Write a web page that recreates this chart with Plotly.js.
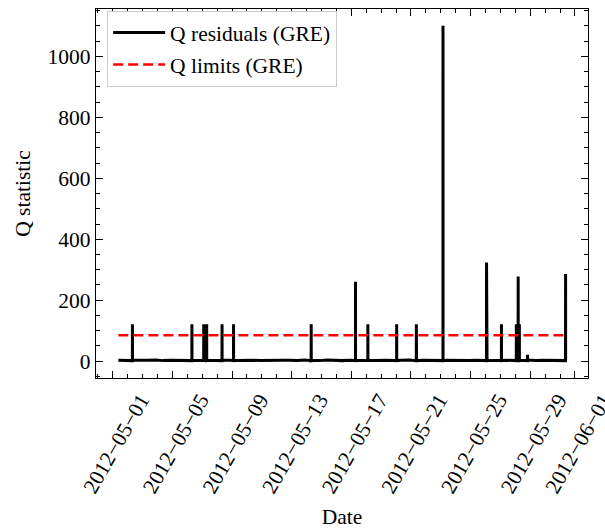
<!DOCTYPE html>
<html>
<head>
<meta charset="utf-8">
<script src="https://cdn.plot.ly/plotly-3.0.1.min.js"></script>
<style>html,body{margin:0;padding:0;background:#fff;}</style>
</head>
<body>
<div id="chart" style="width:605px;height:529px"></div>
<script>
// Baseline samples (every 12 h)
const baselineTimes = [
 "2012-05-01 09:00","2012-05-01 21:00","2012-05-02 09:00","2012-05-02 21:00","2012-05-03 09:00","2012-05-03 21:00",
 "2012-05-04 09:00","2012-05-04 21:00","2012-05-05 09:00","2012-05-05 21:00","2012-05-06 09:00","2012-05-06 21:00",
 "2012-05-07 09:00","2012-05-07 21:00","2012-05-08 09:00","2012-05-08 21:00","2012-05-09 09:00","2012-05-09 21:00",
 "2012-05-10 09:00","2012-05-10 21:00","2012-05-11 09:00","2012-05-11 21:00","2012-05-12 09:00","2012-05-12 21:00",
 "2012-05-13 09:00","2012-05-13 21:00","2012-05-14 09:00","2012-05-14 21:00","2012-05-15 09:00","2012-05-15 21:00",
 "2012-05-16 09:00","2012-05-16 21:00","2012-05-17 09:00","2012-05-17 21:00","2012-05-18 09:00","2012-05-18 21:00",
 "2012-05-19 09:00","2012-05-19 21:00","2012-05-20 09:00","2012-05-20 21:00","2012-05-21 09:00","2012-05-21 21:00",
 "2012-05-22 09:00","2012-05-22 21:00","2012-05-23 09:00","2012-05-23 21:00","2012-05-24 09:00","2012-05-24 21:00",
 "2012-05-25 09:00","2012-05-25 21:00","2012-05-26 09:00","2012-05-26 21:00","2012-05-27 09:00","2012-05-27 21:00",
 "2012-05-28 09:00","2012-05-28 21:00","2012-05-29 09:00","2012-05-29 21:00","2012-05-30 09:00","2012-05-30 21:00",
 "2012-05-31 09:00"];
const baselineValues = [
 3,2,3,2,3,4,2,3,3,2,
 2,3,3,2,4,3,2,3,3,2,
 3,2,3,3,2,4,3,2,4,3,
 2,3,2,3,2,3,3,2,3,4,
 2,3,3,2,3,2,3,2,3,4,
 2,3,3,2,3,4,2,3,3,2,
 3];

// Spike events (time of peak, peak Q value)
const spikeTimes = [
 "2012-05-02 07:40","2012-05-06 07:25","2012-05-07 02:25","2012-05-07 04:50","2012-05-07 07:10",
 "2012-05-08 07:55","2012-05-09 02:25","2012-05-14 07:25","2012-05-16 09:20","2012-05-17 06:45",
 "2012-05-18 02:40","2012-05-20 01:00","2012-05-21 08:40","2012-05-23 03:35","2012-05-26 01:40",
 "2012-05-26 02:25","2012-05-27 01:40","2012-05-28 01:40","2012-05-28 03:20","2012-05-28 04:35",
 "2012-05-28 06:30","2012-05-28 19:40","2012-05-31 08:55"];
const spikePeaks = [
 121,121,121,121,121,
 121,121,121,7,261,
 121,121,121,1100,324,
 253,121,121,121,278,
 121,21,286];
const spikeBase = 2;

// Q limit
const limitTimes = ["2012-05-01 09:00","2012-05-31 09:00"];
const limitValues = [85,85];

// Axis ticks
const tickDates = ["2012-05-01","2012-05-05","2012-05-09","2012-05-13","2012-05-17","2012-05-21","2012-05-25","2012-05-29","2012-06-01"];
const tickLabels = ["2012\u221205\u221201","2012\u221205\u221205","2012\u221205\u221209","2012\u221205\u221213","2012\u221205\u221217","2012\u221205\u221221","2012\u221205\u221225","2012\u221205\u221229","2012\u221206\u221201"];

function ms(s){ return Date.parse(s.replace(" ","T") + (s.length<=10 ? "T00:00:00Z" : ":00Z")); }
const pts = [];
baselineTimes.forEach((t,i)=>pts.push([ms(t), baselineValues[i]]));
const half = 5*60*1000;
spikeTimes.forEach((t,i)=>{
  const m = ms(t);
  pts.push([m-half, spikeBase]);
  pts.push([m, spikePeaks[i]]);
  pts.push([m+half, spikeBase]);
});
pts.sort((a,b)=>a[0]-b[0]);

const FAM = "Liberation Serif";
const FS = 21.5;

const traces = [
  {x: pts.map(p=>p[0]), y: pts.map(p=>p[1]), type:"scatter", mode:"lines", legendgroup:"a",
   name:"Q residuals (GRE)", line:{color:"#000", width:3}},
  {x: limitTimes.map(ms), y: limitValues, type:"scatter", mode:"lines", legendgroup:"b",
   name:"Q limits (GRE)", line:{color:"#ff0000", width:2.5, dash:"10px,5px"}}
];

const layout = {
  width:605, height:529,
  margin:{l:96, r:17, t:9, b:151},
  paper_bgcolor:"#fff", plot_bgcolor:"#fff",
  font: {family:FAM, size:FS, color:"#000"},
  showlegend:true,
  legend:{x:0.022, y:0.995, xanchor:"left", yanchor:"top", bgcolor:"#fff", tracegroupgap:1,
          itemwidth:52, bordercolor:"#cccccc", borderwidth:1.3, font:{family:FAM, size:FS, color:"#000"}},
  xaxis: {
    type:"date", showgrid:false, zeroline:false, showline:true, linecolor:"#000", linewidth:1.2,
    ticks:"inside", ticklen:7, tickwidth:1, tickcolor:"#000", mirror:"allticks",
    tickfont:{family:FAM, size:FS, color:"#000"},
    range:[ms("2012-04-29 21:00"), ms("2012-06-01 21:00")],
    tickmode:"array", tickvals: tickDates.map(ms), ticktext: tickLabels, tickangle:-60,
    ticklabelshift:28, ticklabeloverflow:"allow",
    minor:{dtick:86400000, tick0:ms("2012-05-01"), ticklen:3.5, tickwidth:1, tickcolor:"#000", ticks:"inside"},
    title:{text:"Date", font:{family:FAM, size:FS, color:"#000"}, standoff:20}
  },
  yaxis: {
    showgrid:false, zeroline:false, showline:true, linecolor:"#000", linewidth:1.2,
    ticks:"inside", ticklen:7, tickwidth:1, tickcolor:"#000", mirror:"allticks",
    tickfont:{family:FAM, size:FS, color:"#000"},
    range:[-55,1155], dtick:200, tick0:0,
    minor:{dtick:50, ticklen:3.5, tickwidth:1, tickcolor:"#000", ticks:"inside"},
    title:{text:"Q statistic", font:{family:FAM, size:FS, color:"#000"}, standoff:11}
  }
};

Plotly.newPlot("chart", traces, layout, {displayModeBar:false});
</script>
</body>
</html>
